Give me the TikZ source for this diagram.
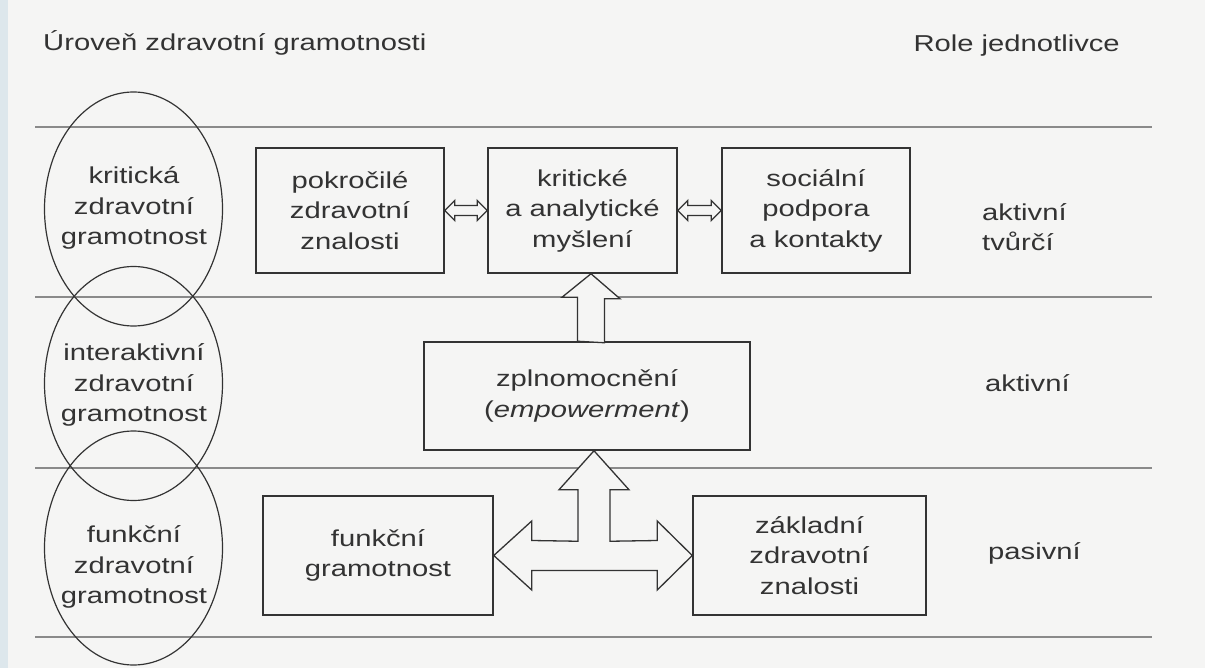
\documentclass[tikz,border=0pt]{standalone}
\usepackage{fontspec}
\setmainfont[FakeStretch=1.27]{Liberation Sans}
\usetikzlibrary{shapes.geometric,calc}
\definecolor{ink}{HTML}{333333}
\definecolor{rulegray}{HTML}{8A8A8A}
\definecolor{paper}{HTML}{F5F5F4}
\definecolor{scanedge}{HTML}{DDE7EC}
\begin{document}
\begin{tikzpicture}[x=1pt,y=-1pt]
% Set styles for boxes, levels, rules and block arrows
\tikzstyle{Box}=[draw=ink,line width=1.5pt,rectangle,align=center,text=ink,font=\fontsize{23}{30.5}\selectfont,inner sep=0pt]
\tikzstyle{Level}=[draw=ink,line width=1.2pt,ellipse,minimum width=178,minimum height=234,inner sep=0pt]
\tikzstyle{Label}=[align=center,text=ink,font=\fontsize{23}{30.5}\selectfont,inner sep=0pt]
\tikzstyle{Rule}=[draw=rulegray,line width=1.4pt]
\tikzstyle{BlockArrow}=[draw=ink,line width=1.3pt,fill=paper,line join=miter]
% Page
\useasboundingbox (0,0) rectangle (1205,668);
\fill[paper] (0,0) rectangle (1205,668);
\fill[scanedge] (0,0) rectangle (8,668);
% Rules between the levels
\foreach \y in {127,297,468,637}
  \draw[Rule] (35,\y) -- (1152,\y);
% Headings
\node[Label,anchor=base west] (hlevel) at (43,51) {Úroveň zdravotní gramotnosti};
\node[Label,anchor=base east] (hrole) at (1120,52) {Role jednotlivce};
% Levels
\foreach \n/\y/\ty/\t in {
    crit/209/208/{kritická\\zdravotní\\gramotnost},
    inter/383.5/385/{interaktivní\\zdravotní\\gramotnost},
    func/548/567/{funkční\\zdravotní\\gramotnost}}{
  \node[Level] (e\n) at (133.5,\y) {};
  \node[Label] (t\n) at (134,\ty) {\t};
}
% Boxes
\foreach \n/\x/\y/\w/\h/\t in {
    pok/350/210.5/188/125/{pokročilé\\zdravotní\\znalosti},
    krit/582.5/210.5/189/125/{kritické\\a analytické\\myšlení},
    soc/816/210.5/188/125/{sociální\\podpora\\a kontakty},
    zpl/587/396/326/108/{zplnomocnění\\(\emph{empowerment})},
    funk/378/555.5/230/119/{funkční\\gramotnost},
    zakl/809.5/555.5/233/119/{základní\\zdravotní\\znalosti}}
  \node[Box,minimum width=\w,minimum height=\h] (\n) at (\x,\y) {\t};
% Roles
\node[Label,anchor=west,align=left] (rcreat) at (982,227) {aktivní\\tvůrčí};
\node[Label,anchor=west] (ract) at (985,383) {aktivní};
\node[Label,anchor=west] (rpass) at (988,553) {pasivní};
% Small double arrows
\foreach \a/\b in {pok/krit, krit/soc}
  \draw[BlockArrow] (\a.east) -- ++(10,-10) -- ++(0,5) -- ($(\b.west)+(-10,-5)$)
    -- ++(0,-5) -- (\b.west) -- ++(-10,10) -- ++(0,-5) -- ($(\a.east)+(10,5)$)
    -- ++(0,5) -- cycle;
% Arrow up to critical thinking
\coordinate (ubase) at ([xshift=4pt]zpl.north);
\draw[BlockArrow] ($(ubase)+(-13.5,0)$) -- ++(0,-44) -- ++(-15.5,0) -- (ubase |- krit.south)
  -- ++(29,25) -- ++(-15.5,0) -- ++(0,44) -- cycle;
% Three-way arrow
\coordinate (tjoin) at ([xshift=7pt]zpl.south);
\draw[BlockArrow] (tjoin) -- ++(35,39) -- ++(-19,0) -- ++(0,51.5)
  -- ($(zakl.west)+(-35,-15)$) -- ++(0,-19.5) -- (zakl.west) -- ++(-35,34.5) -- ++(0,-19.5)
  -- ($(funk.east)+(38,15)$) -- ++(0,19.5) -- (funk.east) -- ++(38,-34.5) -- ++(0,19.5)
  -- ($(tjoin)+(-16,90.5)$) -- ++(0,-51.5) -- ++(-19,0) -- cycle;
\end{tikzpicture}
\end{document}
